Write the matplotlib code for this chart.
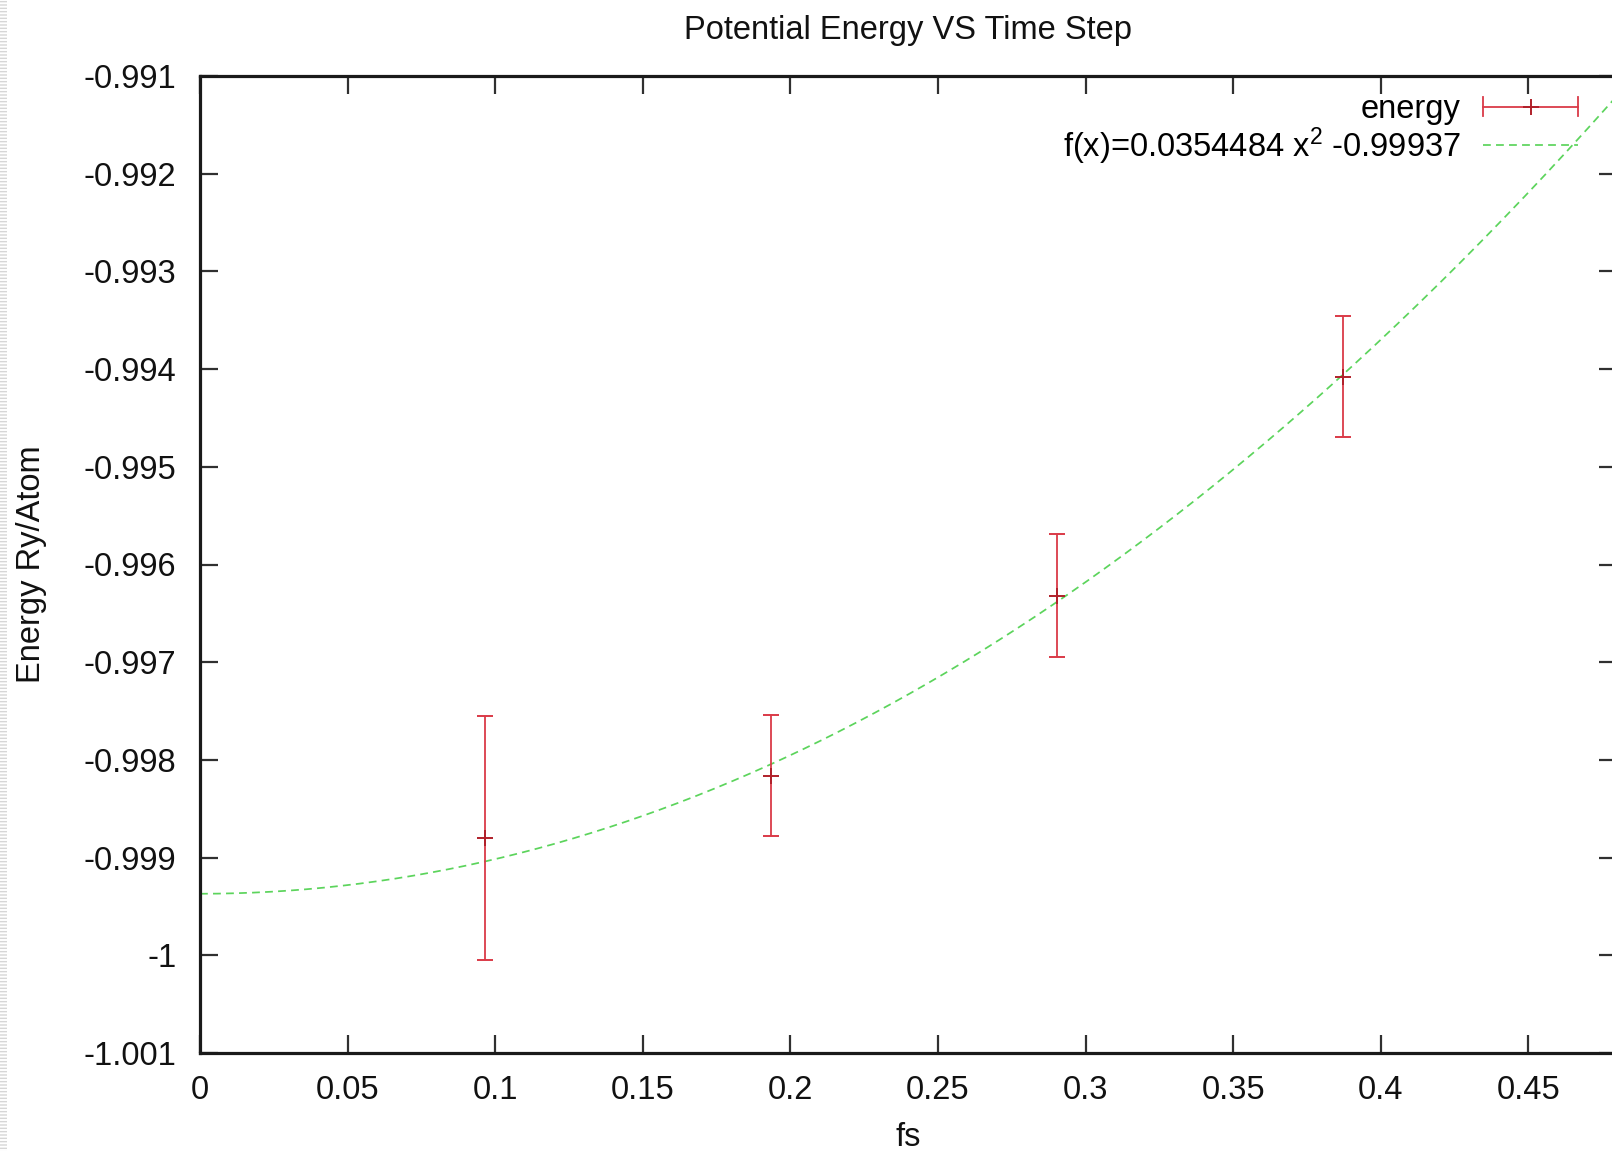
import numpy as np
import matplotlib
matplotlib.use("Agg")
import matplotlib.pyplot as plt
from matplotlib.legend_handler import HandlerBase
from matplotlib.lines import Line2D
from matplotlib.patches import Rectangle
from matplotlib.container import ErrorbarContainer

plt.rcParams['font.family'] = ['Liberation Sans', 'DejaVu Sans']
plt.rcParams['mathtext.default'] = 'regular'
plt.rcParams['hatch.linewidth'] = 1.0

# Measured energies per time step (fs) with their error estimates
time_step = [0.0967, 0.1935, 0.2903, 0.3871]
energy = [-0.99880, -0.99816, -0.99632, -0.99408]
energy_err = [0.00125, 0.00062, 0.00063, 0.00062]

# Quadratic fit f(x) = a x^2 + b
fit_a = 0.0354484
fit_b = -0.99937

x_ticks = [0, 0.05, 0.1, 0.15, 0.2, 0.25, 0.3, 0.35, 0.4, 0.45]
y_ticks = [-1.001, -1.0, -0.999, -0.998, -0.997, -0.996, -0.995, -0.994,
           -0.993, -0.992, -0.991]

FS = 23.5
W, H = 1612, 1151
fig = plt.figure(figsize=(W / 100, H / 100), dpi=100)
fig.patch.set_facecolor('white')

# faint striped strip along the left border
fig.add_artist(Rectangle((0, 0), 7 / W, 1, transform=fig.transFigure,
                         facecolor='white', edgecolor='#d6d6d6',
                         hatch='-----', linewidth=0))

ax = fig.add_axes([200 / W, 1 - 1053 / H, 1417 / W, 977 / H])

red = '#da3a48'
dark_red = '#b0202a'
green = '#5cd45c'

xs = np.linspace(0, 0.48, 400)
fit_line, = ax.plot(xs, fit_a * xs ** 2 + fit_b, color=green, lw=1.25,
                    linestyle=(0, (4.5, 3)),
                    label=r'f(x)=0.0354484 x$^{2}$ -0.99937', zorder=2)

eb = ax.errorbar(time_step, energy, yerr=energy_err, fmt='+', color=red,
                 ecolor=red, elinewidth=1.3, capsize=6, capthick=1.3,
                 markersize=11, markeredgewidth=1.4, label='energy', zorder=3)
eb[0].set_color(dark_red)


class HandlerHorizontalBar(HandlerBase):
    def create_artists(self, legend, orig_handle, xdescent, ydescent,
                       width, height, fontsize, trans):
        y = height / 2 - ydescent
        x0, x1 = -xdescent, width - xdescent
        cap = 7
        base = Line2D([x0, x1], [y, y], color=red, lw=1.3)
        caps = Line2D([x0, x0, np.nan, x1, x1],
                      [y - cap, y + cap, np.nan, y - cap, y + cap],
                      color=red, lw=1.3)
        mid = Line2D([(x0 + x1) / 2], [y], marker='+', markersize=11,
                     markeredgewidth=1.4, color=dark_red, linestyle='none')
        for a in (base, caps, mid):
            a.set_transform(trans)
        return [base, caps, mid]


em = FS * 100 / 72
ax.legend(handles=[eb, fit_line],
          handler_map={ErrorbarContainer: HandlerHorizontalBar()},
          loc='upper right', bbox_to_anchor=(1378 / 1417, (1053 - 94) / 977),
          frameon=False, markerfirst=False, fontsize=FS,
          handlelength=95 / em, handletextpad=22 / em, labelspacing=0.0,
          borderpad=0, borderaxespad=0)

ax.set_xlim(0, 0.48)
ax.set_ylim(-1.001, -0.991)
ax.set_xticks(x_ticks)
ax.set_yticks(y_ticks)
ax.set_xticklabels([f'{round(v, 6):g}' for v in x_ticks])
ax.set_yticklabels([f'{round(v, 6):g}' for v in y_ticks])

ax.tick_params(direction='in', top=True, right=True, length=13, width=1.6,
               color='#303030', labelsize=FS, labelcolor='#111111')
ax.tick_params(axis='x', pad=15.5)
ax.tick_params(axis='y', pad=17)

for sp in ax.spines.values():
    sp.set_linewidth(2.3)
    sp.set_color('#1a1a1a')

ax.set_title('Potential Energy VS Time Step', fontsize=FS, pad=26.6,
             color='#111111')
ax.set_xlabel('fs', fontsize=FS, color='#111111')
ax.set_ylabel('Energy Ry/Atom', fontsize=FS, color='#111111')
ax.xaxis.set_label_coords(0.5, (1053 - 1122) / 977)
ax.yaxis.set_label_coords((47 - 200) / 1417, 0.5)

fig.savefig('out.png', dpi=100)
